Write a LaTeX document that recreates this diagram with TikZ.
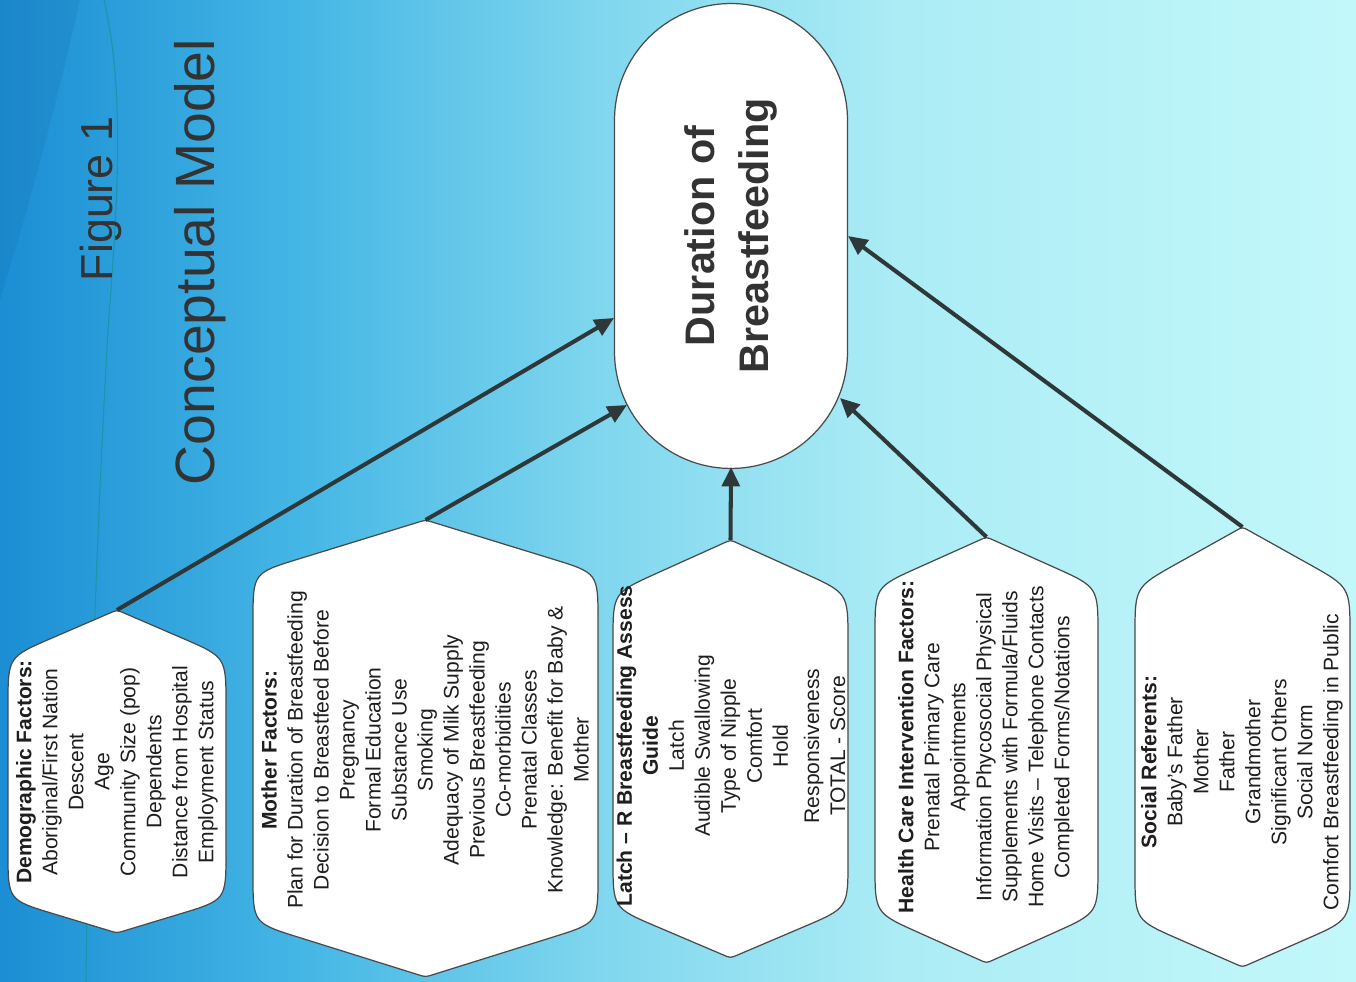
\documentclass[tikz,border=0pt]{standalone}
\usepackage{fontspec}
\setmainfont{Liberation Sans}
\usetikzlibrary{calc,shapes.misc,arrows.meta}
\definecolor{bgA}{HTML}{1B8ED4}
\definecolor{bgB}{HTML}{44B6E5}
\definecolor{bgC}{HTML}{7FD6EE}
\definecolor{bgD}{HTML}{ABECF5}
\definecolor{bgE}{HTML}{C3F8FA}
\definecolor{ink}{HTML}{1E1E1E}
\definecolor{arrowc}{HTML}{2E3838}
\definecolor{edgec}{HTML}{4A4A4A}
\definecolor{titlec}{HTML}{333333}
\pgfdeclarehorizontalshading{bgshade}{100bp}{color(0bp)=(bgA); color(25bp)=(bgA); color(36bp)=(bgB); color(47bp)=(bgC); color(58bp)=(bgD); color(75bp)=(bgE); color(100bp)=(bgE)}
\tikzset{
  hexsty/.style={fill=white, draw=edgec, line width=0.7pt},
  boxtext/.style={rotate=90, align=center, text=ink, inner sep=0pt, font=\fontsize{12}{14.8}\selectfont},
  arr/.style={draw=arrowc, line width=2.3pt, -{Triangle[length=11pt,width=10pt]}},
}
\newcommand{\hexshape}[7]{%
  \pgfmathsetmacro{\hxc}{(#2+#3)/2}%
  \coordinate (#1-t) at (\hxc,#4);
  \coordinate (#1-tr) at (#3,#5);
  \coordinate (#1-br) at (#3,#6);
  \coordinate (#1-b) at (\hxc,#7);
  \coordinate (#1-bl) at (#2,#6);
  \coordinate (#1-tl) at (#2,#5);
  \path[hexsty] ($(#1-tl)!0.5!(#1-bl)$)
    -- ($(#1-tl)!0.95cm!(#1-bl)$) .. controls (#1-tl) .. ($(#1-tl)!0.95cm!(#1-t)$)
    -- ($(#1-t)!0.15cm!(#1-tl)$) .. controls (#1-t) .. ($(#1-t)!0.15cm!(#1-tr)$)
    -- ($(#1-tr)!0.95cm!(#1-t)$) .. controls (#1-tr) .. ($(#1-tr)!0.95cm!(#1-br)$)
    -- ($(#1-br)!0.95cm!(#1-tr)$) .. controls (#1-br) .. ($(#1-br)!0.95cm!(#1-b)$)
    -- ($(#1-b)!0.15cm!(#1-br)$) .. controls (#1-b) .. ($(#1-b)!0.15cm!(#1-bl)$)
    -- ($(#1-bl)!0.95cm!(#1-b)$) .. controls (#1-bl) .. ($(#1-bl)!0.95cm!(#1-tl)$)
    -- cycle;
}
\begin{document}
\begin{tikzpicture}[x=0.02cm, y=-0.02cm]
\useasboundingbox (0,0) rectangle (1356,982);
% background
\shade[shading=bgshade] (0,0) rectangle (1356,982);
\fill[bgA!80!black, opacity=0.22] (0,0) -- (80,0) .. controls (55,110) and (28,210) .. (0,300) -- cycle;
\draw[teal!60!bgB, line width=0.6pt] (104,0) .. controls (125,90) and (118,200) .. (108,330) .. controls (95,560) and (88,800) .. (86,982);

% titles
\node[rotate=90, text=titlec, font=\fontsize{25.5}{30}\selectfont] (fig) at (101,199) {Figure 1};
\node[rotate=90, text=titlec, font=\fontsize{31.5}{38}\selectfont] (cm) at (200,262) {Conceptual Model};

% central node
\node[rounded rectangle, rotate=90, draw=edgec, fill=white, line width=0.7pt,
      minimum width=9.3cm, minimum height=4.66cm, inner sep=0pt,
      align=center, text=titlec, font=\bfseries\fontsize{23.5}{31}\selectfont] (dur) at (731,236)
      {Duration of\\Breastfeeding};

% factor boxes
\hexshape{demo}{8}{226}{610}{657}{900}{933}
\hexshape{moth}{253}{598}{520}{573}{923}{977}
\hexshape{latch}{613}{848}{540}{593}{908}{958}
\hexshape{hcare}{875}{1098}{537}{587}{913}{963}
\hexshape{soc}{1135}{1350}{527}{587}{920}{967}

\node[boxtext] (demotext) at (117,772) {\textbf{Demographic Factors:}\\Aboriginal/First Nation\\Descent\\Age\\Community Size (pop)\\Dependents\\Distance from Hospital\\Employment Status};
\node[boxtext] (mothtext) at (425,750) {\textbf{Mother Factors:}\\Plan for Duration of Breastfeeding\\Decision to Breastfeed Before\\Pregnancy\\Formal Education\\Substance Use\\Smoking\\Adequacy of Milk Supply\\Previous Breastfeeding\\Co-morbidities\\Prenatal Classes\\Knowledge: Benefit for Baby \&\\Mother};
\node[boxtext] (latchtext) at (731,746) {\textbf{Latch – R Breastfeeding Assess}\\\textbf{Guide}\\Latch\\Audible Swallowing\\Type of Nipple\\Comfort\\Hold\\[3pt]Responsiveness\\TOTAL - Score};
\node[boxtext] (hcaretext) at (986,747) {\textbf{Health Care Intervention Factors:}\\Prenatal Primary Care\\Appointments\\Information Phycosocial Physical\\Supplements with Formula/Fluids\\Home Visits – Telephone Contacts\\Completed Forms/Notations};
\node[boxtext] (soctext) at (1242,762) {\textbf{Social Referents:}\\Baby's Father\\Mother\\Father\\Grandmother\\Significant Others\\Social Norm\\Comfort Breastfeeding in Public};

% connectors
\draw[arr] (demo-t) -- ($(dur.center)+(-117,82)$);
\draw[arr] (moth-t) -- ($(dur.center)+(-104,169)$);
\draw[arr] (latch-t) -- ($(dur.center)+(0,231)$);
\draw[arr] (hcare-t) -- ($(dur.center)+(109,162)$);
\draw[arr] (soc-t) -- ($(dur.center)+(117,0)$);
\end{tikzpicture}
\end{document}
